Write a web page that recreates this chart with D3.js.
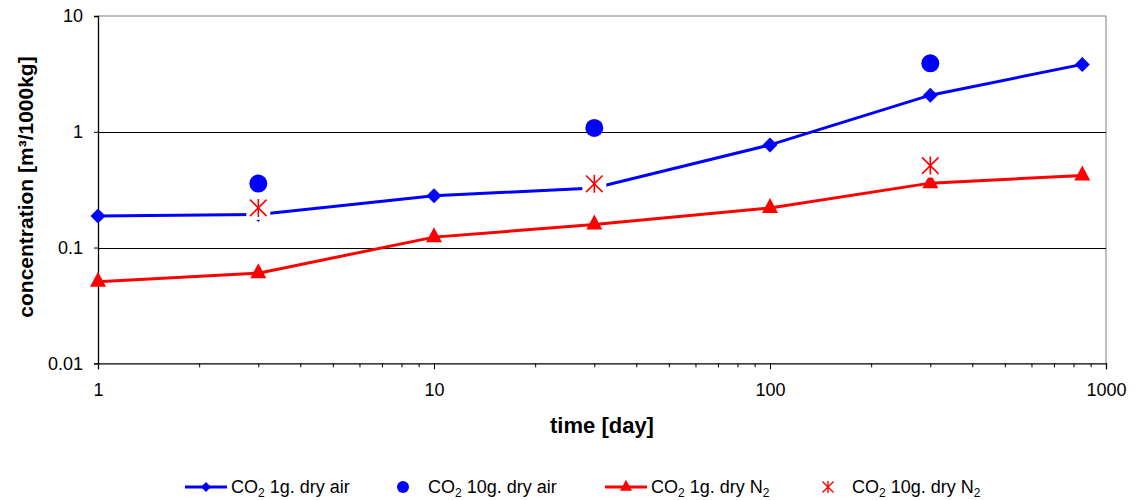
<!DOCTYPE html>
<html>
<head>
<meta charset="utf-8">
<script src="https://cdn.jsdelivr.net/npm/d3@7"></script>
<style>
  html, body { margin: 0; padding: 0; background: #fff; }
  svg { display: block; font-family: Arial, "Liberation Sans", sans-serif; }
</style>
</head>
<body>
<svg id="chart" width="1136" height="500"></svg>
<script>
// ---- data ----
const daysLine = [1, 3, 10, 30, 100, 300, 850];
const air1g = [0.187, 0.193, 0.28, 0.327, 0.77, 2.07, 3.82];
const n2_1g = [0.0507, 0.060, 0.123, 0.158, 0.22, 0.36, 0.42];
const daysPoints = [3, 30, 300];
const air10g = [0.357, 1.08, 3.9];
const n2_10g = [0.22, 0.355, 0.51];
const xMajorTicks = [1, 10, 100, 1000];
const yTicks = [0.01, 0.1, 1, 10];
const yTickLabels = ["0.01", "0.1", "1", "10"];
const xTickLabels = ["1", "10", "100", "1000"];
const legendLabels = [
  ["CO", "2", " 1g. dry air"],
  ["CO", "2", " 10g. dry air"],
  ["CO", "2", " 1g. dry N", "2"],
  ["CO", "2", " 10g. dry N", "2"]
];

const BLUE = "#0000ff", RED = "#ff0000";
const svg = d3.select("#chart");
const L = 98, R = 1106, T = 16, B = 363.3;

const x = d3.scaleLog().domain([1, 1000]).range([L, R]);
const y = d3.scaleLog().domain([0.01, 10]).range([B, T]);

// frame top/right
svg.append("line").attr("x1", L).attr("x2", R).attr("y1", y(10)).attr("y2", y(10))
  .attr("stroke", "#808080").attr("stroke-width", 1);
svg.append("line").attr("x1", R).attr("x2", R).attr("y1", T).attr("y2", B)
  .attr("stroke", "#808080").attr("stroke-width", 1);

// gridlines
svg.append("g").selectAll("line").data([0.1, 1]).join("line")
  .attr("x1", L).attr("x2", R)
  .attr("y1", d => Math.round(y(d)) + 0.5).attr("y2", d => Math.round(y(d)) + 0.5)
  .attr("stroke", "#000").attr("stroke-width", 1);

// x minor ticks
const minor = [];
[1, 10, 100].forEach(p => { for (let k = 2; k <= 9; k++) minor.push(p * k); });
const xMinor = svg.append("g").attr("transform", `translate(0,${B})`)
  .call(d3.axisBottom(x).tickValues(minor).tickSize(4).tickFormat(""));
xMinor.select(".domain").remove();
xMinor.selectAll("line").attr("stroke", "#000");

// x major axis
const xAxis = svg.append("g").attr("transform", `translate(0,${B})`)
  .call(d3.axisBottom(x).tickValues(xMajorTicks).tickSize(6).tickPadding(14)
    .tickFormat((d, i) => xTickLabels[i]));
xAxis.select(".domain").attr("stroke", "#000").attr("stroke-width", 1.3);
xAxis.selectAll("line").attr("stroke", "#000");
xAxis.selectAll("text").attr("font-size", 18).attr("fill", "#000")
  .attr("font-family", "Arial, 'Liberation Sans', sans-serif");

// y axis
const yAxis = svg.append("g").attr("transform", `translate(${L},0)`)
  .call(d3.axisLeft(y).tickValues(yTicks).tickSize(4).tickPadding(11)
    .tickFormat((d, i) => yTickLabels[i]));
yAxis.select(".domain").attr("stroke", "#000").attr("stroke-width", 1.3);
yAxis.selectAll("line").attr("stroke", "#000").attr("x2", -4).attr("x1", 1);
yAxis.selectAll("text").attr("font-size", 18).attr("fill", "#000")
  .attr("font-family", "Arial, 'Liberation Sans', sans-serif");

// axis titles
svg.append("text").attr("x", (L + R) / 2).attr("y", 433)
  .attr("text-anchor", "middle").attr("font-size", 22).attr("font-weight", "bold")
  .text("time [day]");
svg.append("text").attr("transform", `translate(33,187) rotate(-90)`)
  .attr("text-anchor", "middle").attr("font-size", 21).attr("font-weight", "bold")
  .text("concentration [m³/1000kg]");

// marker paths
const diamond = s => `M0,${-s}L${s},0L0,${s}L${-s},0Z`;
const triangle = (w, h) => `M0,${-h * 2 / 3}L${w / 2},${h / 3}L${-w / 2},${h / 3}Z`;
const asterisk = s => `M0,${-s}V${s}M${-s * 0.92},${-s * 0.92}L${s * 0.92},${s * 0.92}M${s * 0.92},${-s * 0.92}L${-s * 0.92},${s * 0.92}`;

const line = d3.line().x(d => x(d[0])).y(d => y(d[1]));

// blue series line + diamonds
const airData = daysLine.map((d, i) => [d, air1g[i]]);
svg.append("path").datum(airData).attr("d", line)
  .attr("fill", "none").attr("stroke", BLUE).attr("stroke-width", 3);
svg.append("g").selectAll("path").data(airData).join("path")
  .attr("transform", d => `translate(${x(d[0])},${y(d[1])})`)
  .attr("d", diamond(7.5)).attr("fill", BLUE);

// blue circles
svg.append("g").selectAll("circle").data(daysPoints.map((d, i) => [d, air10g[i]])).join("circle")
  .attr("cx", d => x(d[0])).attr("cy", d => y(d[1])).attr("r", 9).attr("fill", BLUE);

// red line + triangles
const n2Data = daysLine.map((d, i) => [d, n2_1g[i]]);
svg.append("path").datum(n2Data).attr("d", line)
  .attr("fill", "none").attr("stroke", RED).attr("stroke-width", 3);
svg.append("g").selectAll("path").data(n2Data).join("path")
  .attr("transform", d => `translate(${x(d[0])},${y(d[1])})`)
  .attr("d", triangle(16, 15)).attr("fill", RED);

// red asterisks with white background
const astG = svg.append("g").selectAll("g").data(daysPoints.map((d, i) => [d, n2_10g[i]])).join("g")
  .attr("transform", d => `translate(${x(d[0])},${y(d[1])})`);
astG.append("rect").attr("x", -12).attr("y", -12).attr("width", 24).attr("height", 24).attr("fill", "#fff");
astG.append("path").attr("d", asterisk(9)).attr("stroke", RED).attr("stroke-width", 1.6).attr("fill", "none");

// legend
const legY = 487;
const leg = svg.append("g");
function legText(xPos, parts) {
  const t = leg.append("text").attr("x", xPos).attr("y", legY + 6).attr("font-size", 18).attr("fill", "#000");
  parts.forEach((p, i) => {
    const isSub = p === "2";
    t.append("tspan").attr("font-size", isSub ? 12 : 18)
      .attr("dy", isSub ? 4 : (i > 0 && parts[i - 1] === "2" ? -4 : 0))
      .text(p);
  });
}
// item 1
leg.append("line").attr("x1", 185).attr("x2", 227).attr("y1", legY).attr("y2", legY)
  .attr("stroke", BLUE).attr("stroke-width", 3);
leg.append("path").attr("transform", `translate(206,${legY})`).attr("d", diamond(5)).attr("fill", BLUE);
legText(231, legendLabels[0]);
// item 2
leg.append("circle").attr("cx", 403).attr("cy", legY).attr("r", 6).attr("fill", BLUE);
legText(428, legendLabels[1]);
// item 3
leg.append("line").attr("x1", 605).attr("x2", 647).attr("y1", legY).attr("y2", legY)
  .attr("stroke", RED).attr("stroke-width", 3);
leg.append("path").attr("transform", `translate(626,${legY})`).attr("d", triangle(12, 11)).attr("fill", RED);
legText(651, legendLabels[2]);
// item 4
leg.append("path").attr("transform", `translate(828,${legY})`).attr("d", asterisk(6)).attr("stroke", RED)
  .attr("stroke-width", 1.4).attr("fill", "none");
legText(852, legendLabels[3]);
</script>
</body>
</html>
